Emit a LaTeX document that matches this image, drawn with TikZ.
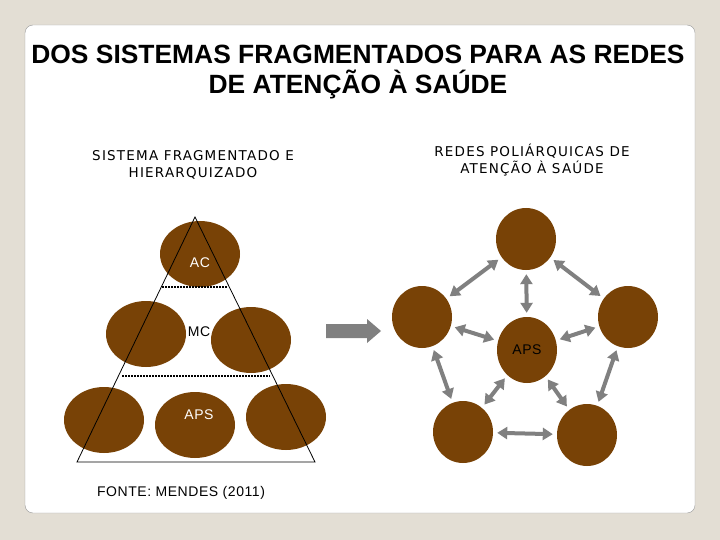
\documentclass[tikz,border=0pt]{standalone}
\usepackage{fontspec}
\setmainfont{Liberation Sans}
\newfontfamily\subfont{DejaVu Sans}[LetterSpace=9]
\newfontfamily\rotfont{Liberation Sans}[LetterSpace=4]
\usetikzlibrary{arrows.meta,shapes.geometric}

\definecolor{fundo}{RGB}{227,222,212}
\definecolor{marrom}{RGB}{120,66,6}
\definecolor{cinza}{RGB}{128,128,128}

\tikzset{
  bola/.style={ellipse, fill=marrom, minimum width=80, minimum height=66, inner sep=0pt},
  rede/.style={ellipse, fill=marrom, minimum width=60, minimum height=62, inner sep=0pt},
  liga/.style={{Triangle[width=12pt,length=10pt]}-{Triangle[width=12pt,length=10pt]},
    line width=4pt, draw=cinza, shorten <=4pt, shorten >=4pt},
  pontos/.style={line width=2.5pt, dash pattern=on 1.5pt off 1.5pt},
  rotulo/.style={font=\rotfont\fontsize{14}{16}\selectfont, inner sep=0pt},
  subtitulo/.style={font=\subfont\fontsize{13.5}{17}\selectfont, align=center, inner sep=0pt}
}

\begin{document}
\begin{tikzpicture}[x=1pt,y=-1pt]

% fundo e quadro
\fill[fundo] (0,0) rectangle (720,540);
\draw[gray!80, fill=white, rounded corners=8pt] (25,25) rectangle (695,513);

% titulo
\node[font=\bfseries\fontsize{26.4}{30}\selectfont, align=center] (titulo) at (358,72)
{DOS SISTEMAS FRAGMENTADOS PARA AS REDES\\DE ATENÇÃO À SAÚDE};

\node[subtitulo] (subesq) at (193,165)
{SISTEMA FRAGMENTADO E\\HIERARQUIZADO};

\node[subtitulo] (subdir) at (532,160)
{REDES POLIÁRQUICAS DE\\ATENÇÃO À SAÚDE};

% Sistema fragmentado
\node[bola] (ac) at (200,254) {};
\node[bola] (mcesq) at (146,334) {};
\node[bola] (mcdir) at (251,340) {};
\node[bola] (apsesq) at (104,420) {};
\node[bola] (apsmeio) at (195,425) {};
\node[bola] (apsdir) at (286,417) {};

\coordinate (topo) at (195,217);
\coordinate (baseesq) at (77,462);
\coordinate (basedir) at (315,462);
\draw[line width=0.8pt] (topo) -- (baseesq) -- (basedir) -- cycle;

\coordinate (n1esq) at (162,287);
\coordinate (n1dir) at (228,287);
\coordinate (n2esq) at (122,376);
\coordinate (n2dir) at (270,376);
\draw[pontos] (n1esq) -- (n1dir);
\draw[pontos] (n2esq) -- (n2dir);

\node[rotulo, white] (lac) at (200,263) {AC};
\node[rotulo] (lmc) at (199,332) {MC};
\node[rotulo, white] (laps) at (199,415) {APS};

\node[rotulo] (fonte) at (181,493) {FONTE: MENDES (2011)};

% seta
\fill[cinza]
(326,324) -- (367,324) -- (367,319) -- (381,331)
-- (367,343) -- (367,338) -- (326,338) -- cycle;

% Redes poliarquicas
\node[rede] (rsup) at (526,239) {};
\node[rede] (resq) at (422,317) {};
\node[rede] (rdir) at (628,317) {};
\node[rede, minimum height=66, font=\rotfont\fontsize{14}{16}\selectfont] (rcen) at (527,350) {APS};
\node[rede] (rinfesq) at (463,432) {};
\node[rede] (rinfdir) at (587,435) {};

\draw[liga] (rsup) -- (resq);
\draw[liga] (rsup) -- (rcen);
\draw[liga] (rsup) -- (rdir);
\draw[liga] (resq) -- (rcen);
\draw[liga] (rdir) -- (rcen);
\draw[liga] (resq) -- (rinfesq);
\draw[liga] (rcen) -- (rinfesq);
\draw[liga] (rcen) -- (rinfdir);
\draw[liga] (rdir) -- (rinfdir);
\draw[liga] (rinfesq) -- (rinfdir);

\end{tikzpicture}
\end{document}
